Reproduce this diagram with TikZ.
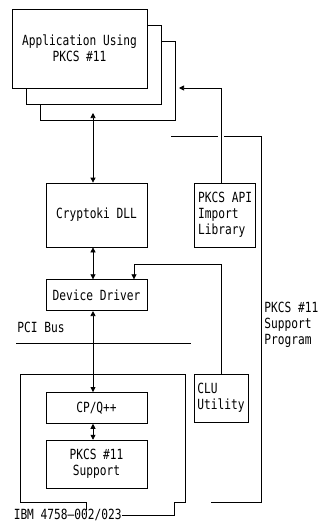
\documentclass[tikz,border=0pt]{standalone}
\usepackage{fontspec}
\newfontfamily\termfont{DejaVu Sans Mono}[FakeStretch=0.8]
\usetikzlibrary{arrows.meta,positioning,calc}

\begin{document}
\begin{tikzpicture}[x=1pt, y=-1pt, line width=0.7pt, font=\termfont\fontsize{14}{16}\selectfont, box/.style={draw, align=center, inner sep=0pt}, arr/.style={-{Triangle[length=5pt,width=5pt]}}, biarr/.style={{Triangle[length=5pt,width=5pt]}-{Triangle[length=5pt,width=5pt]}}]
\useasboundingbox (0,0) rectangle (320,522);
% application stack
\node[box, minimum width=135pt, minimum height=79pt] (app3) at (107.5,80.5) {};
\node[box, minimum width=135pt, minimum height=79pt, fill=white] (app2) at (93.5,64.5) {};
\node[box, minimum width=135pt, minimum height=79pt, fill=white] (app) at (79.5,48.5) {Application Using\\PKCS \#11};
% host side
\node[box, minimum width=101pt, minimum height=64pt] (dll) at (96.5,215) {Cryptoki DLL};
\node[box, right=47pt of dll, minimum width=61pt, minimum height=64pt, align=left] (apilib) {PKCS API\\Import\\Library};
\node[box, below=32pt of dll, minimum width=101pt, minimum height=31pt] (driver) {Device Driver};
\node[anchor=west, inner sep=0pt] (pcibus) at (17,327) {PCI Bus};
% coprocessor
\node[box, below=81pt of driver, minimum width=101pt, minimum height=31pt] (cpq) {CP/Q++};
\node[box, below=16pt of cpq, minimum width=101pt, minimum height=48pt] (support) {PKCS \#11\\Support};
\node[anchor=east, inner sep=0pt] (ibm) at (122,515) {IBM 4758–002/023};
\node[box, minimum width=54pt, minimum height=48pt, align=left] (clu) at (221,398) {CLU\\Utility};
\node[anchor=west, align=left, inner sep=0pt] (suplabel) at (264,325) {PKCS \#11\\Support\\Program};
\coordinate (spine) at (93,0);
\coordinate (col) at (221,0);
\coordinate (apptip) at (93,113);
\coordinate (apitip) at (179,88);
\coordinate (cluturn) at (134,264);
\draw[biarr] (dll.north -| spine) -- (apptip);
\draw[biarr] (dll.south -| spine) -- (driver.north -| spine);
\draw[biarr] (driver.south -| spine) -- (cpq.north -| spine);
\draw[biarr] (cpq.south -| spine) -- (support.north -| spine);
\draw[arr] (apilib.north -| col) |- (apitip);
\draw[arr] (clu.north) |- (cluturn) -- (cluturn |- driver.north);
% bus and brackets
\draw (16,343) -- (191,343);
\draw (86,510) -- (86,502) -- (20,502) -- (20,374) -- (185,374) -- (185,502) -- (174,502) |- (ibm.east);
\draw (171,136) -- (218,136) (224,136) -- (261,136) -- (261,502) -- (211,502);
\end{tikzpicture}
\end{document}
